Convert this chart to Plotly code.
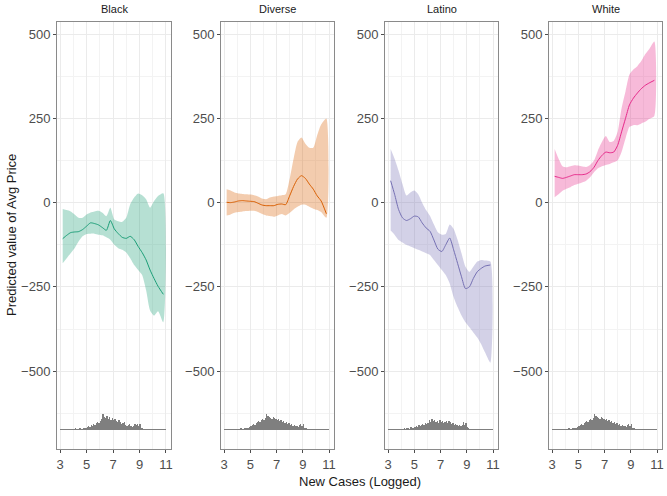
import plotly.graph_objects as go

groups = ["Black", "Diverse", "Latino", "White"]
colors = ["#1B9E77", "#D95F02", "#7570B3", "#E7298A"]
fills = ["rgba(27,158,119,0.32)", "rgba(217,95,2,0.32)", "rgba(117,112,179,0.32)", "rgba(231,41,138,0.32)"]

x_grid = [3.2, 3.5, 3.8, 4.1, 4.4, 4.7, 5.0, 5.3, 5.6, 5.9, 6.2, 6.5, 6.8,
          7.1, 7.4, 7.7, 8.0, 8.3, 8.6, 8.9, 9.2, 9.5, 9.8, 10.1, 10.4, 10.8]

black_fit = [-107, -97, -89, -87, -86, -80, -70, -60, -62, -66, -74, -82, -53,
             -78, -92, -103, -106, -100, -110, -130, -148, -170, -200, -225, -248, -272]
black_hi = [-19, -22, -26, -35, -45, -45, -35, -29, -26, -24, -30, -40, -15,
            -50, -55, -57, -45, -5, 15, 27, 22, 10, -15, 5, 20, 28]
black_lo = [-180, -165, -150, -135, -115, -100, -93, -92, -92, -95, -97, -103, -110,
            -125, -135, -140, -148, -165, -185, -200, -215, -260, -320, -335, -322, -355]

diverse_fit = [1, 0, 2, 5, 6, 5, 4, 3, -2, -7, -9, -9, -9,
               -5, -4, -6, 20, 48, 70, 80, 72, 55, 40, 20, 5, -33]
diverse_hi = [40, 36, 30, 27, 26, 25, 24, 22, 18, 12, 10, 15, 18,
              20, 22, 25, 70, 130, 180, 193, 175, 163, 163, 200, 232, 250]
diverse_lo = [-38, -35, -30, -28, -26, -25, -24, -24, -28, -34, -38, -40, -42,
              -38, -34, -38, -30, -20, -12, -6, -6, -12, -18, -22, -28, -45]

latino_fit = [65, 25, -20, -45, -53, -48, -40, -42, -60, -75, -85, -111, -138,
              -145, -125, -105, -140, -180, -220, -255, -250, -225, -205, -195, -188, -185]
latino_hi = [159, 130, 95, 55, 21, 30, 36, 25, 0, -22, -40, -65, -88,
             -95, -93, -65, -78, -110, -150, -190, -205, -190, -175, -170, -172, -175]
latino_lo = [-83, -95, -111, -118, -125, -130, -135, -140, -145, -150, -155, -170, -185,
             -200, -215, -240, -280, -310, -335, -355, -370, -385, -400, -420, -445, -475]

white_fit = [78, 75, 72, 75, 79, 83, 83, 83, 85, 92, 105, 125, 140,
             150, 148, 150, 170, 210, 250, 290, 310, 325, 338, 348, 355, 363]
white_hi = [159, 130, 108, 105, 108, 111, 110, 107, 106, 112, 125, 155, 180,
            198, 180, 183, 210, 280, 330, 380, 395, 405, 420, 440, 455, 478]
white_lo = [16, 25, 35, 41, 46, 52, 56, 60, 65, 75, 90, 102, 108,
            112, 115, 120, 125, 150, 190, 225, 230, 230, 235, 240, 248, 257]

# histogram of observations (bins of 0.1 from 3.0 to 11.0), heights in y units
hist_bins = [3.0 + 0.1 * i + 0.05 for i in range(80)]
black_hist = [3, 3, 3, 3, 3, 3, 3, 3, 4, 3, 3, 5, 4, 3, 5, 5, 4, 6, 5, 6,
              9, 12, 8, 15, 12, 18, 15, 21, 24, 20, 27, 33, 47, 40, 36, 42, 33, 39, 30, 36,
              30, 33, 27, 24, 30, 24, 18, 21, 24, 15, 12, 15, 18, 12, 9, 12, 18, 15, 18, 12,
              18, 6, 5, 4, 3, 3, 3, 3, 3, 3, 3, 3, 3, 3, 3, 3, 3, 3, 3, 3]
diverse_hist = [3, 3, 3, 3, 3, 3, 3, 4, 3, 3, 4, 3, 6, 5, 4, 6, 5, 7, 6, 9,
                12, 15, 18, 15, 21, 24, 27, 24, 30, 33, 30, 36, 48, 42, 39, 36, 33, 39, 36, 33,
                30, 33, 27, 30, 24, 27, 21, 24, 18, 21, 15, 18, 12, 15, 12, 12, 9, 15, 18, 12,
                18, 6, 5, 4, 3, 3, 3, 3, 3, 3, 3, 3, 3, 3, 3, 3, 3, 3, 3, 3]
latino_hist = [3, 3, 3, 3, 3, 3, 3, 3, 3, 3, 3, 4, 6, 3, 5, 6, 4, 8, 5, 7,
               9, 12, 9, 14, 12, 15, 18, 16, 20, 18, 21, 30, 24, 33, 27, 30, 24, 27, 21, 30,
               24, 27, 21, 24, 27, 21, 27, 24, 18, 21, 15, 18, 15, 12, 15, 12, 15, 24, 15, 21,
               9, 6, 4, 3, 3, 3, 3, 3, 3, 3, 3, 3, 3, 3, 3, 3, 3, 3, 3, 3]
white_hist = [3, 3, 3, 3, 3, 3, 3, 4, 3, 3, 4, 3, 5, 6, 4, 6, 5, 7, 6, 8,
              12, 14, 18, 15, 20, 24, 26, 24, 30, 32, 30, 36, 48, 42, 38, 36, 34, 39, 35, 33,
              30, 33, 28, 30, 24, 27, 21, 24, 18, 21, 15, 18, 12, 15, 12, 12, 9, 15, 18, 12,
              18, 6, 5, 4, 3, 3, 3, 3, 3, 3, 3, 3, 3, 3, 3, 3, 3, 3, 3, 3]

hist_base = -675
x_ticks = [3, 5, 7, 9, 11]
y_ticks = [-500, -250, 0, 250, 500]

fits = [black_fit, diverse_fit, latino_fit, white_fit]
his = [black_hi, diverse_hi, latino_hi, white_hi]
los = [black_lo, diverse_lo, latino_lo, white_lo]
hists = [black_hist, diverse_hist, latino_hist, white_hist]

W, H = 667, 496
panel_px = [(57, 171), (221, 334), (385, 498), (549, 662)]
top_px, bot_px = 22, 449


def px_x(sx):
    return sx / W


def px_y(sy):
    return 1 - sy / H


fig = go.Figure()
font_family = "Liberation Sans, Arial, sans-serif"

for i, g in enumerate(groups):
    xa = "x" if i == 0 else f"x{i+1}"
    ya = "y" if i == 0 else f"y{i+1}"
    fig.add_trace(go.Bar(x=hist_bins, y=hists[i], base=hist_base, width=0.1,
                         marker=dict(color="#7F7F7F", line=dict(width=0)),
                         xaxis=xa, yaxis=ya, showlegend=False, hoverinfo="skip"))
    fig.add_trace(go.Scatter(x=x_grid + x_grid[::-1], y=his[i] + los[i][::-1],
                             fill="toself", fillcolor=fills[i], mode="lines",
                             line=dict(width=0, shape="spline", smoothing=0.6),
                             xaxis=xa, yaxis=ya, showlegend=False, hoverinfo="skip"))
    fig.add_trace(go.Scatter(x=x_grid, y=fits[i], mode="lines",
                             line=dict(color=colors[i], width=1, shape="spline", smoothing=0.6),
                             xaxis=xa, yaxis=ya, showlegend=False, hoverinfo="skip"))

    l, r = panel_px[i]
    axis_common = dict(showline=True, mirror=True, linecolor="#8A8A8A", linewidth=1,
                       ticks="outside", ticklen=3, tickcolor="#4D4D4D",
                       tickfont=dict(size=13, color="#4D4D4D", family=font_family),
                       gridcolor="#EBEBEB", gridwidth=1, zeroline=False, automargin=False)
    xkey = "xaxis" if i == 0 else f"xaxis{i+1}"
    ykey = "yaxis" if i == 0 else f"yaxis{i+1}"
    fig.layout[xkey] = dict(domain=[px_x(l), px_x(r)], range=[2.77, 11.38],
                            tickvals=x_ticks, anchor=ya,
                            minor=dict(tickvals=[4, 6, 8, 10], showgrid=True,
                                       gridcolor="#F3F3F3", ticks=""),
                            **axis_common)
    fig.layout[ykey] = dict(domain=[px_y(bot_px), px_y(top_px)], range=[-731, 536],
                            tickvals=y_ticks, anchor=xa,
                            minor=dict(tickvals=[-625, -375, -125, 125, 375], showgrid=True,
                                       gridcolor="#F3F3F3", ticks=""),
                            **axis_common)
    fig.add_annotation(x=px_x((l + r) / 2), y=px_y(9), xref="paper", yref="paper",
                       xanchor="center", yanchor="middle",
                       text=g, showarrow=False,
                       font=dict(size=11, color="#1A1A1A", family=font_family))

fig.add_annotation(x=px_x(11), y=px_y(235), xref="paper", yref="paper",
                   xanchor="center", yanchor="middle",
                   text="Predicted value of Avg Price", textangle=-90, showarrow=False,
                   font=dict(size=13, color="#1A1A1A", family=font_family))
fig.add_annotation(x=px_x(360), y=px_y(481), xref="paper", yref="paper",
                   xanchor="center", yanchor="middle",
                   text="New Cases (Logged)", showarrow=False,
                   font=dict(size=13, color="#1A1A1A", family=font_family))

fig.update_layout(width=W, height=H, margin=dict(l=0, r=0, t=0, b=0),
                  paper_bgcolor="white", plot_bgcolor="white", bargap=0,
                  hovermode=False, font=dict(family=font_family))

# remove the default 8px page margin so the figure fills the window exactly
fig.write_html("out.html", config={"displayModeBar": False, "staticPlot": True},
               post_script="document.body.style.margin='0';document.body.style.overflow='hidden';")
